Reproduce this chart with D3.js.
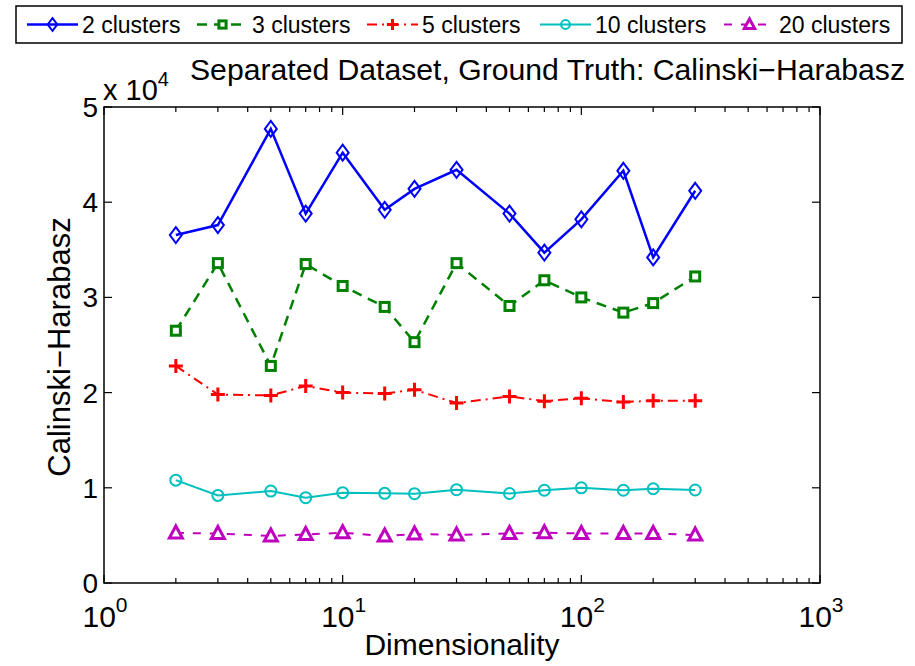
<!DOCTYPE html>
<html>
<head>
<meta charset="utf-8">
<script src="https://cdn.jsdelivr.net/npm/d3@7"></script>
<style>
  body { margin: 0; background: #fff; }
  svg text { font-family: "Liberation Sans", Arial, sans-serif; fill: #000; }
</style>
</head>
<body>
<svg id="chart" width="915" height="666"></svg>
<script>
// dimensionality values on the x axis
const dims = [2, 3, 5, 7, 10, 15, 20, 30, 50, 70, 100, 150, 200, 300];

const clusters2 = [36550, 37600, 47700, 38800, 45200, 39200, 41400, 43400, 38800, 34700, 38200, 43300, 34200, 41200];
const clusters3 = [26500, 33600, 22800, 33500, 31200, 29000, 25300, 33600, 29100, 31800, 30000, 28400, 29400, 32200];
const clusters5 = [22800, 19800, 19700, 20700, 20000, 19900, 20300, 18900, 19600, 19100, 19400, 19000, 19150, 19150];
const clusters10 = [10800, 9200, 9660, 8960, 9490, 9420, 9380, 9800, 9400, 9740, 10000, 9740, 9900, 9770];
const clusters20 = [5250, 5200, 4940, 5100, 5280, 4940, 5150, 5040, 5200, 5280, 5200, 5200, 5200, 5040];

const seriesNames = ['2 clusters', '3 clusters', '5 clusters', '10 clusters', '20 clusters'];
const yTicks = [0, 10000, 20000, 30000, 40000, 50000];
const xTicks = [1, 10, 100, 1000];

const series = [
  { name: seriesNames[0], values: clusters2, color: '#0000ff', dash: null, marker: 'diamond', width: 2.5 },
  { name: seriesNames[1], values: clusters3, color: '#008000', dash: '10,7', marker: 'square', width: 2.5 },
  { name: seriesNames[2], values: clusters5, color: '#ff0000', dash: '10,5,2,5', marker: 'plus', width: 2 },
  { name: seriesNames[3], values: clusters10, color: '#00bfbf', dash: null, marker: 'circle', width: 2 },
  { name: seriesNames[4], values: clusters20, color: '#bf00bf', dash: '8,9', marker: 'triangle', width: 2 }
];

const margin = { left: 104, right: 820, top: 107, bottom: 583 };
const svg = d3.select('#chart');

const x = d3.scaleLog().domain([1, 1000]).range([margin.left, margin.right]);
const y = d3.scaleLinear().domain([0, 50000]).range([margin.bottom, margin.top]);

// frame
svg.append('rect')
  .attr('x', margin.left).attr('y', margin.top)
  .attr('width', margin.right - margin.left)
  .attr('height', margin.bottom - margin.top)
  .attr('fill', 'none').attr('stroke', '#000').attr('stroke-width', 1.5);

// x ticks (major + minor), inward, top and bottom
const minor = [];
for (let d = 1; d < 1000; d *= 10) {
  for (let k = 2; k <= 9; k++) minor.push(d * k);
}
const tickG = svg.append('g').attr('stroke', '#000').attr('stroke-width', 1.2);
xTicks.concat(minor).forEach(v => {
  const len = xTicks.includes(v) ? 8 : 5;
  const px = x(v);
  tickG.append('line').attr('x1', px).attr('x2', px).attr('y1', margin.bottom).attr('y2', margin.bottom - len);
  tickG.append('line').attr('x1', px).attr('x2', px).attr('y1', margin.top).attr('y2', margin.top + len);
});
yTicks.forEach(v => {
  const py = y(v);
  tickG.append('line').attr('x1', margin.left).attr('x2', margin.left + 8).attr('y1', py).attr('y2', py);
  tickG.append('line').attr('x1', margin.right).attr('x2', margin.right - 8).attr('y1', py).attr('y2', py);
});

// tick labels
svg.append('g').selectAll('text').data(yTicks).enter().append('text')
  .attr('x', margin.left - 6)
  .attr('y', d => y(d) + 10)
  .attr('text-anchor', 'end')
  .style('font-size', '28px')
  .text(d => d / 10000);

svg.append('g').selectAll('text').data(xTicks).enter().append('text')
  .attr('x', d => x(d) + 1)
  .attr('y', 627)
  .attr('text-anchor', 'middle')
  .style('font-size', '30px')
  .each(function (d) {
    const t = d3.select(this);
    t.append('tspan').text('10');
    t.append('tspan').attr('dy', -15).style('font-size', '21px').text(Math.round(Math.log10(d)));
  });

// exponent label
const expo = svg.append('text').attr('x', 103).attr('y', 100).style('font-size', '29px');
expo.append('tspan').text('x 10');
expo.append('tspan').attr('dy', -14).style('font-size', '20px').text('4');

// title and axis labels
svg.append('text')
  .attr('x', 190).attr('y', 80)
  .attr('textLength', 715)
  .attr('lengthAdjust', 'spacingAndGlyphs')
  .style('font-size', '29px')
  .text('Separated Dataset, Ground Truth: Calinski\u2212Harabasz');

svg.append('text')
  .attr('x', 462).attr('y', 655)
  .attr('text-anchor', 'middle')
  .style('font-size', '30px')
  .text('Dimensionality');

svg.append('text')
  .attr('transform', 'translate(70,347) rotate(-90)')
  .attr('text-anchor', 'middle')
  .style('font-size', '31px')
  .text('Calinski\u2212Harabasz');

// markers
function drawMarker(g, type, cx, cy, color, s = 1) {
  if (type === 'diamond') {
    g.append('path').attr('d', `M${cx},${cy - 8 * s}L${cx + 6 * s},${cy}L${cx},${cy + 8 * s}L${cx - 6 * s},${cy}Z`)
      .attr('fill', 'none').attr('stroke', color).attr('stroke-width', 2);
  } else if (type === 'square') {
    g.append('rect').attr('x', cx - 4.5 * s).attr('y', cy - 4.5 * s).attr('width', 9 * s).attr('height', 9 * s)
      .attr('fill', '#fff').attr('stroke', color).attr('stroke-width', 3);
  } else if (type === 'plus') {
    g.append('path').attr('d', `M${cx - 7 * s},${cy}H${cx + 7 * s}M${cx},${cy - 7 * s}V${cy + 7 * s}`)
      .attr('stroke', color).attr('stroke-width', 3);
  } else if (type === 'circle') {
    g.append('circle').attr('cx', cx).attr('cy', cy).attr('r', 5.5 * s)
      .attr('fill', 'none').attr('stroke', color).attr('stroke-width', 2);
  } else if (type === 'triangle') {
    g.append('path').attr('d', `M${cx},${cy - 7 * s}L${cx + 6.5 * s},${cy + 5 * s}L${cx - 6.5 * s},${cy + 5 * s}Z`)
      .attr('fill', '#fff').attr('stroke', color).attr('stroke-width', 3);
  }
}

const line = d3.line().x(d => x(d[0])).y(d => y(d[1]));

series.forEach(s => {
  const pts = dims.map((d, i) => [d, s.values[i]]);
  const g = svg.append('g');
  g.append('path')
    .attr('d', line(pts))
    .attr('fill', 'none')
    .attr('stroke', s.color)
    .attr('stroke-width', s.width)
    .attr('stroke-dasharray', s.dash);
  pts.forEach(p => drawMarker(g, s.marker, x(p[0]), y(p[1]), s.color));
});

// legend
const legend = svg.append('g');
legend.append('rect')
  .attr('x', 16).attr('y', 6).attr('width', 886).attr('height', 37)
  .attr('fill', '#fff').attr('stroke', '#000').attr('stroke-width', 1.5);
const legendX = [27, 197, 367, 540, 724];
series.forEach((s, i) => {
  const lx = legendX[i];
  const g = legend.append('g');
  g.append('path')
    .attr('d', `M${lx},24.5H${lx + 51}`)
    .attr('stroke', s.color).attr('stroke-width', s.width)
    .attr('stroke-dasharray', s.dash);
  drawMarker(g, s.marker, lx + 25.5, 24.5, s.color, 0.8);
  g.append('text')
    .attr('x', lx + 55).attr('y', 33)
    .style('font-size', '23px')
    .text(s.name);
});
</script>
</body>
</html>
